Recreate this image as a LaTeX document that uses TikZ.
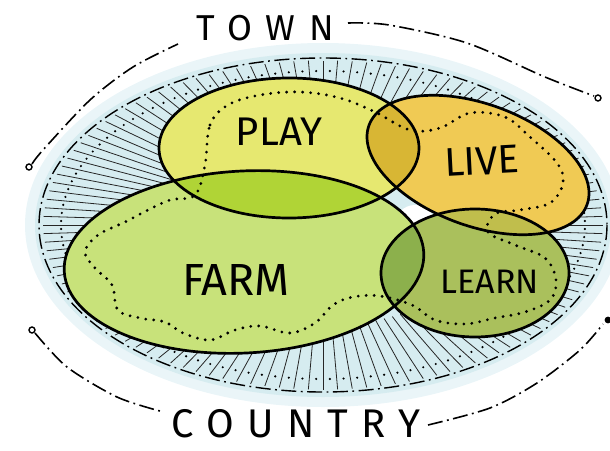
\documentclass[tikz,border=0pt]{standalone}
\usepackage{fontspec}
\newfontfamily\handfont{Fira Sans}
\usetikzlibrary{calc}
\definecolor{playyellow}{RGB}{230,232,112}
\definecolor{liveorange}{RGB}{240,202,84}
\definecolor{farmgreen}{RGB}{200,226,122}
\definecolor{learnolive}{RGB}{170,192,92}
\definecolor{playlive}{RGB}{216,182,52}
\definecolor{playfarm}{RGB}{176,212,54}
\definecolor{farmlearn}{RGB}{140,176,76}
\definecolor{livelearn}{RGB}{192,190,76}
\definecolor{ringblue}{RGB}{214,236,240}
\definecolor{haloblue}{RGB}{234,245,248}

\newcommand\playshape{(289,148) ellipse [x radius=130, y radius=70]}
\newcommand\liveshape{(478,165) ellipse [x radius=116, y radius=61, rotate=-20]}
\newcommand\farmshape{(244,262) ellipse [x radius=180, y radius=91, rotate=3]}
\newcommand\learnshape{(475,273) ellipse [x radius=94, y radius=64]}

\tikzset{
  bubble/.style={draw=black, line width=2.7pt},
  dashdot/.style={line width=1.6pt, dash pattern=on 15pt off 4.5pt on 1.8pt off 4.5pt},
  trail/.style={line width=3.1pt, line cap=round, dash pattern=on 0pt off 8pt},
  hatch/.style={black!85, line width=0.8pt},
  hand/.style={font=\handfont\fontsize{#1}{#1}\selectfont, inner sep=0pt}
}

\begin{document}
\begin{tikzpicture}[x=1pt, y=-1pt]
\useasboundingbox (0,0) rectangle (610,450);
\fill[haloblue] (323,225) ellipse [x radius=298, y radius=182];
\fill[ringblue] (323,225) ellipse [x radius=288, y radius=172];
\begin{scope}[shift={(323,225)}]
\foreach \a in {0,3,...,357} {
  \draw[hatch] (\a:170.4 and 100.2) -- (\a:279.7 and 164.5);
  \fill (\a+1.5:262 and 154) circle[radius=1.2];
}
\draw[dashdot, line width=1.4pt] (0,0) ellipse [x radius=284, y radius=167];
\end{scope}
\fill[white] (415,225) circle[radius=20];
\fill[playyellow] \playshape;
\fill[liveorange] \liveshape;
\fill[farmgreen] \farmshape;
\fill[learnolive] \learnshape;
\begin{scope}
\clip \playshape;
\fill[playlive] \liveshape;
\fill[playfarm] \farmshape;
\end{scope}
\begin{scope}
\clip \learnshape;
\fill[farmlearn] \farmshape;
\fill[livelearn] \liveshape;
\end{scope}
\draw[trail] plot[smooth cycle, tension=0.6] coordinates {
  (205,165) (210,125) (228,105) (260,95) (300,92) (340,98) (375,112)
  (410,130) (440,128) (470,113) (505,117) (530,137) (557,163) (563,183)
  (550,203) (520,210) (495,214) (488,232) (515,245) (545,258) (556,280)
  (550,300) (525,312) (495,318) (465,324) (435,320) (412,305) (380,296)
  (353,297) (333,305) (315,323) (290,333) (260,326) (235,330) (210,340)
  (183,333) (165,322) (140,318) (118,310) (112,285) (95,268) (85,252)
  (98,235) (125,222) (148,210) (170,200) (195,195)};
\draw[bubble] \playshape;
\draw[bubble] \liveshape;
\draw[bubble] \farmshape;
\draw[bubble] \learnshape;
\draw[dashdot] plot[smooth] coordinates {(32,164) (43,150) (90,100) (133,67) (178,44)};
\draw[dashdot] plot[smooth] coordinates {(348,23) (389,25) (467,43) (545,77) (594,96)};
\draw[dashdot] plot[smooth] coordinates {(35,333) (67,367) (117,397) (160,411)};
\draw[dashdot] plot[smooth] coordinates {(428,425) (490,408) (537,383) (580,350) (603,324)};
\draw[line width=1.4pt] (29,167) circle[radius=3];
\draw[line width=1.4pt] (598,98) circle[radius=3];
\draw[line width=1.4pt] (32,330) circle[radius=3];
\fill (608,320) circle[radius=3.4];
\node[hand=36] (town) at (265,28) {\addfontfeature{LetterSpace=38}TOWN};
\node[hand=40] (country) at (296,424) {\addfontfeature{LetterSpace=33}COUNTRY};
\node[hand=40] (playlbl) at (279,132) {PLAY};
\node[hand=40, rotate=3] (livelbl) at (482,161) {LIVE};
\node[hand=45] (farmlbl) at (236,280) {FARM};
\node[hand=34] (learnlbl) at (490,282) {LEARN};
\end{tikzpicture}
\end{document}
